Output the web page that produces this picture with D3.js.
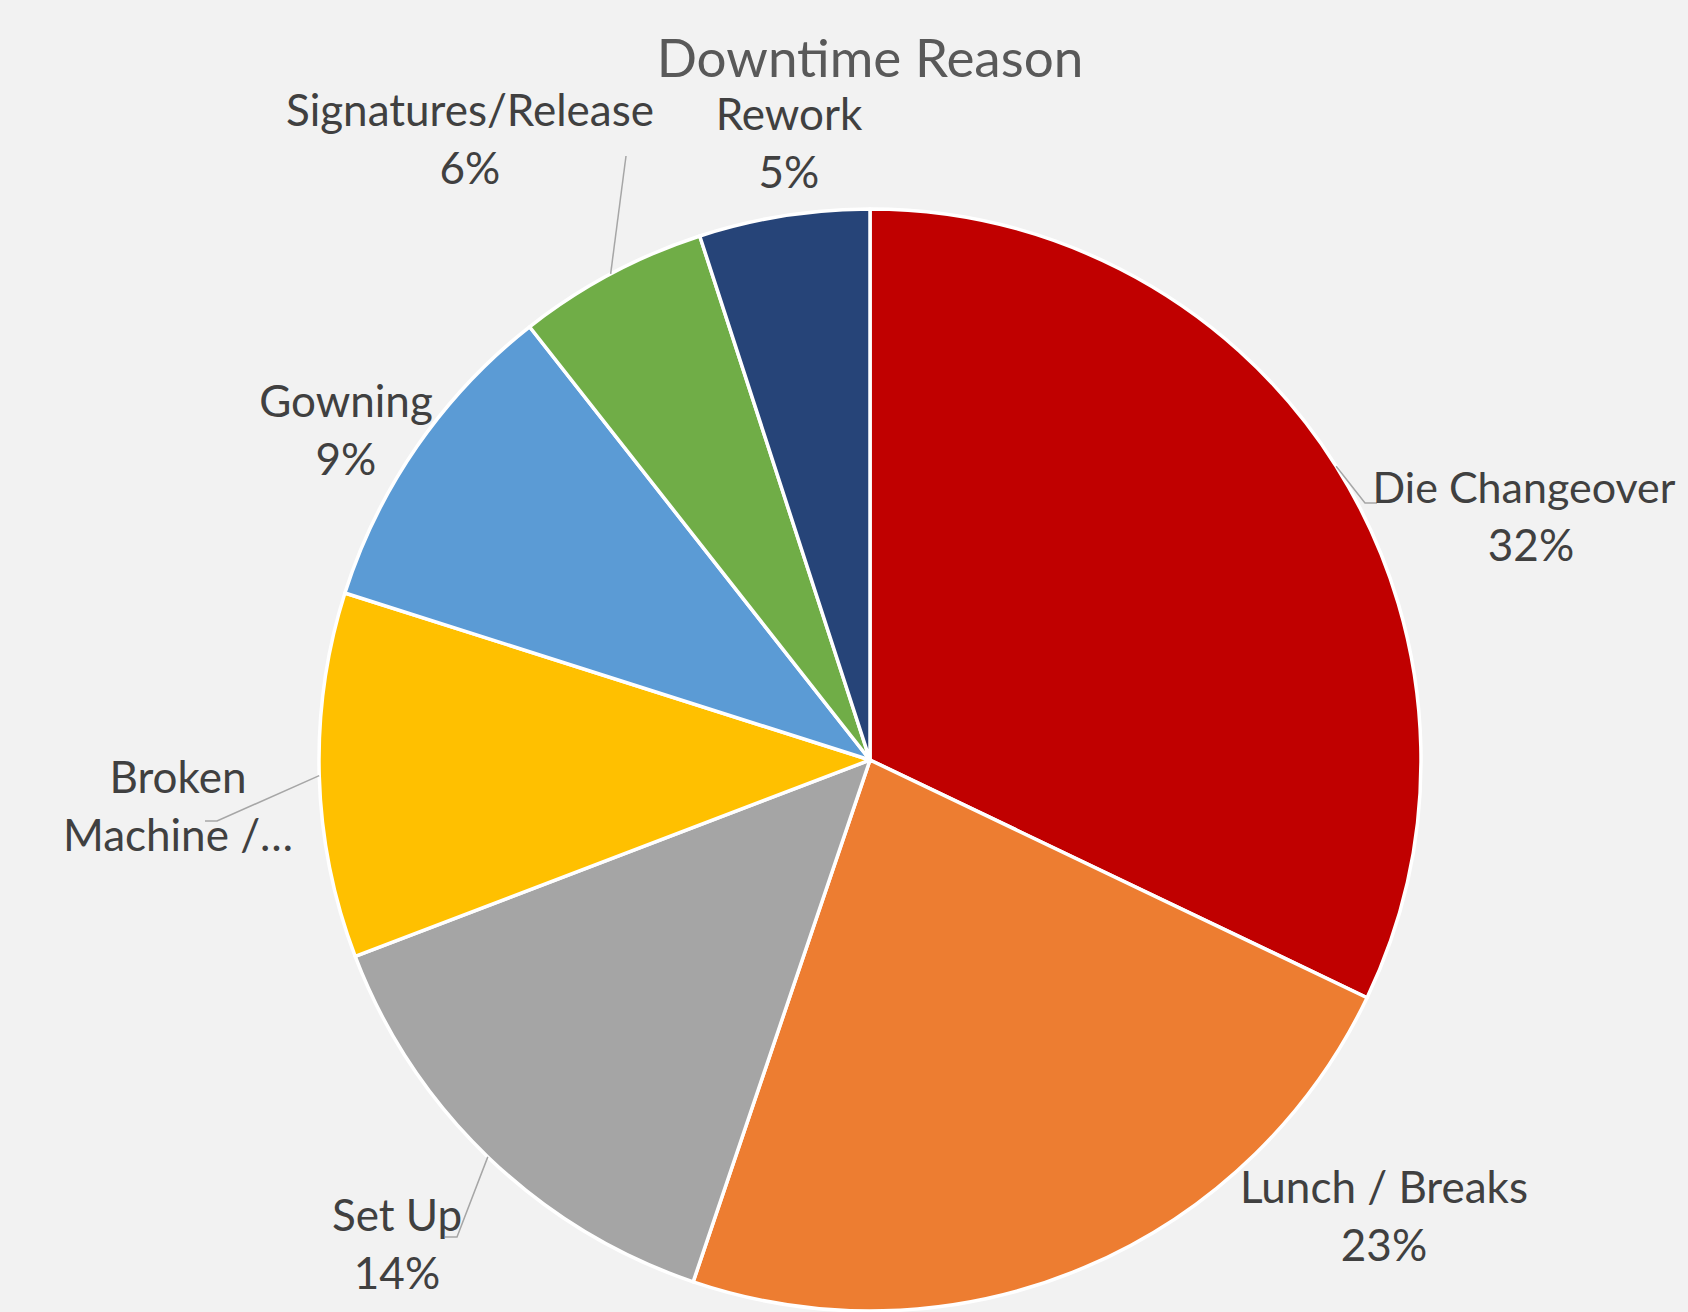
<!DOCTYPE html>
<html>
<head>
<meta charset="utf-8">
<script src="https://cdn.jsdelivr.net/npm/d3@7"></script>
<style>
  html, body { margin: 0; padding: 0; background: #F2F2F2; }
  svg { display: block; }
</style>
</head>
<body>
<svg id="chart" width="1688" height="1312"></svg>
<script>
// ---- data ----
const categories = ["Die Changeover", "Lunch / Breaks", "Set Up", "Broken Machine / Repair", "Gowning", "Signatures/Release", "Rework"];
const values = [32.1, 23.1, 14.0, 10.7, 9.5, 5.6, 5.0];
const percentLabels = ["32%", "23%", "14%", "11%", "9%", "6%", "5%"];
const labelLines = [["Die Changeover"], ["Lunch / Breaks"], ["Set Up"], ["Broken", "Machine /…"], ["Gowning"], ["Signatures/Release"], ["Rework"]];
const showPercent = [true, true, true, false, true, true, true];
const colors = ["#C00000", "#ED7D31", "#A5A5A5", "#FFC000", "#5B9BD5", "#70AD47", "#264478"];
const title = "Downtime Reason";

// ---- layout (label placement, not data) ----
const W = 1688, H = 1312;
const cx = 870, cy = 760, R = 551;
// label anchor (centre x, first baseline y) and leader elbow/end (null = no leader)
const labelLayout = [
  { x: 1531, y: 503, dx: -7, leader: [[1365, 503], [1377, 503]] },
  { x: 1384, y: 1203, dx: 0, leader: null },
  { x: 397, y: 1231, dx: 0, leader: [[457, 1237], [445, 1237]] },
  { x: 178, y: 793, dx: 0, leader: [[217, 821], [205, 821]] },
  { x: 346, y: 417, dx: 0, leader: null },
  { x: 470, y: 126, dx: 0, leader: [[626, 156]] },
  { x: 789, y: 130, dx: 0, leader: null }
];
const lineGap = 58;

const svg = d3.select("#chart");
svg.append("rect").attr("width", W).attr("height", H).attr("fill", "#F2F2F2");

const pie = d3.pie().sort(null).value(d => d)(values);
const arc = d3.arc().innerRadius(0).outerRadius(R);

const g = svg.append("g").attr("transform", `translate(${cx},${cy})`);
g.selectAll("path.slice")
  .data(pie)
  .join("path")
  .attr("class", "slice")
  .attr("d", arc)
  .attr("fill", (d, i) => colors[i])
  .attr("stroke", "#FFFFFF")
  .attr("stroke-width", 3.5)
  .attr("stroke-linejoin", "round");

// leader lines: start on outer arc at slice mid-angle
const leaders = svg.append("g");
pie.forEach((d, i) => {
  const L = labelLayout[i];
  if (!L.leader) return;
  const a = (d.startAngle + d.endAngle) / 2;
  const start = [cx + R * Math.sin(a), cy - R * Math.cos(a)];
  const pts = [start].concat(L.leader);
  leaders.append("path")
    .attr("d", d3.line()(pts))
    .attr("fill", "none")
    .attr("stroke", "#A6A6A6")
    .attr("stroke-width", 1.5);
});

const font = "Lato, 'Open Sans', 'DejaVu Sans', sans-serif";
const labels = svg.append("g")
  .attr("font-family", font)
  .attr("font-size", 44)
  .attr("fill", "#404040")
  .attr("text-anchor", "middle");

pie.forEach((d, i) => {
  const L = labelLayout[i];
  labelLines[i].forEach((ln, k) => {
    const t = labels.append("text")
      .attr("x", L.x + L.dx)
      .attr("y", L.y + k * lineGap)
      .text(ln);
    if (L.dx) t.attr("font-size", 43);
  });
  if (showPercent[i]) {
    labels.append("text")
      .attr("x", L.x)
      .attr("y", L.y + labelLines[i].length * lineGap)
      .text(percentLabels[i]);
  }
});

svg.append("text")
  .attr("x", cx)
  .attr("y", 77)
  .attr("text-anchor", "middle")
  .attr("font-family", font)
  .attr("font-size", 53)
  .attr("fill", "#595959")
  .text(title);
</script>
</body>
</html>
